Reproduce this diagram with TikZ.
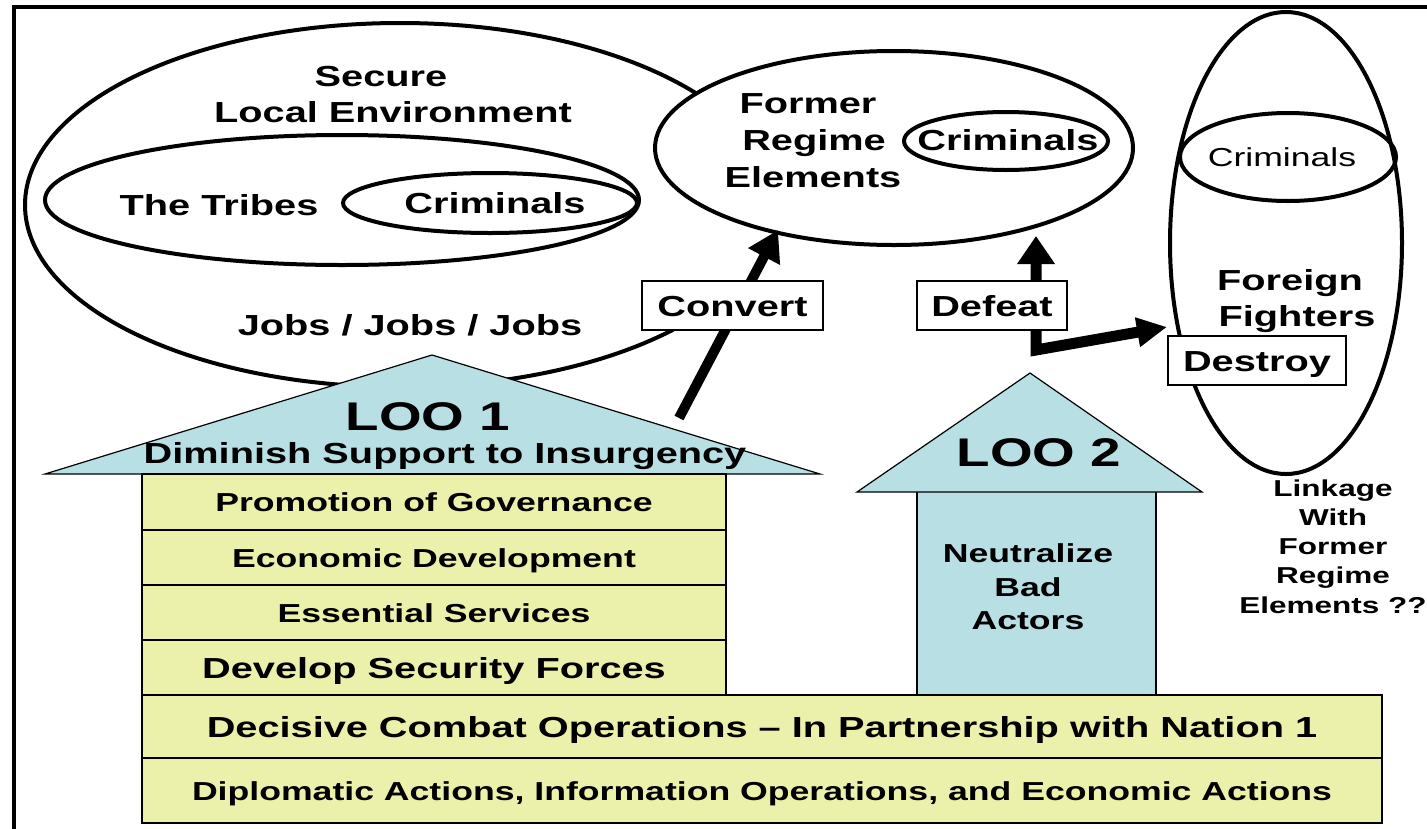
\documentclass[tikz,border=0pt]{standalone}
\usepackage{fontspec}
\setmainfont{Liberation Sans}[FakeStretch=1.37]
\usetikzlibrary{shapes.geometric,arrows.meta}
\definecolor{loob}{RGB}{184,223,227}
\definecolor{looy}{RGB}{235,240,170}
\newcommand{\fA}{\fontsize{29}{35}\selectfont\bfseries}
\newcommand{\fB}{\fontsize{26}{31}\selectfont\bfseries}
\newcommand{\fC}{\fontsize{40}{46}\selectfont\bfseries}
\newcommand{\fD}{\fontsize{23}{28}\selectfont\bfseries}
\newcommand{\fR}{\fontsize{26}{31}\selectfont}
\begin{document}
\begin{tikzpicture}[x=1pt,y=-1pt,
  oval/.style={draw, ellipse, line width=4pt, inner sep=0pt},
  lbl/.style={anchor=base, inner sep=0pt, font=\fA},
  box/.style={draw, fill=white, line width=1.2pt, inner sep=0pt, font=\fA, text height=21pt, text depth=0pt},
  row/.style={draw, fill=looy, line width=1.2pt, inner sep=0pt, text height=19pt, text depth=0pt, font=\fB},
  rowbig/.style={row, text height=21pt, font=\fA},
  loofill/.style={draw, fill=loob, line width=1.2pt, line join=miter},
  fat/.style={line width=10pt, line join=miter}]
\useasboundingbox (0,0) rectangle (1427,828);
% frame
\draw[line width=4pt, line join=miter] (13.5,830) -- (13.5,7) -- (1430,7);
% Secure local environment
\begin{scope}
\clip (0,0) -- (1427,0) -- (1427,200) -- (674,200) -- (674,333) -- (1427,333) -- (1427,828) -- (0,828) -- cycle;
\node[oval, minimum width=750pt, minimum height=364pt] (sle) at (400,205) {};
\end{scope}
\node[oval, minimum width=594pt, minimum height=130pt] (tribes) at (342,200) {};
\node[oval, minimum width=294pt, minimum height=60pt] (crim1) at (490,203) {};
\node[lbl] (t-secure) at (381,86) {Secure};
\node[lbl] (t-local) at (393,122) {Local Environment};
\node[lbl] (t-tribes) at (219,215) {The Tribes};
\node[lbl] (t-crim1) at (495,213) {Criminals};
\node[lbl] (t-jobs) at (410,335) {Jobs / Jobs / Jobs};
% Former regime elements
\node[oval, fill=white, minimum width=478pt, minimum height=194pt] (fre) at (894,148) {};
\node[oval, minimum width=204pt, minimum height=58pt] (crim2) at (1006,141) {};
\node[lbl] (t-former) at (808,113) {Former};
\node[lbl] (t-regime) at (814,150) {Regime};
\node[lbl] (t-elem) at (813,187) {Elements};
\node[lbl] (t-crim2) at (1008,150) {Criminals};
% Foreign fighters
\node[oval, minimum width=232pt, minimum height=462pt] (ff) at (1286,243) {};
\node[oval, minimum width=216pt, minimum height=88pt] (crim3) at (1288,157) {};
\node[lbl, font=\fR] (t-crim3) at (1282,166) {Criminals};
\node[lbl] (t-foreign) at (1290,290) {Foreign};
\node[lbl] (t-fighters) at (1297,326) {Fighters};
% LOO 1
\coordinate (l1a) at (45,474);
\coordinate (l1b) at (432,355);
\coordinate (l1c) at (820,474);
\draw[loofill] (l1a) -- (l1b) -- (l1c) -- cycle;
\node[lbl, font=\fC] (t-loo1) at (428,430) {LOO 1};
\node[lbl] (t-dimin) at (445,463) {Diminish Support to Insurgency};
% LOO 2
\coordinate (l2a) at (857,492);
\coordinate (l2b) at (1030,373);
\coordinate (l2c) at (1202,492);
\node[loofill, rectangle, minimum width=239pt, minimum height=204pt, inner sep=0pt] (loo2) at (1036.5,593) {};
\draw[loofill] (l2a) -- (l2b) -- (l2c) -- cycle;
\node[lbl, font=\fC] (t-loo2) at (1039,466) {LOO 2};
\node[lbl, font=\fB] (t-neu) at (1028,562) {Neutralize};
\node[lbl, font=\fB] (t-bad) at (1028,596) {Bad};
\node[lbl, font=\fB] (t-act) at (1028,629) {Actors};
% rows
\node[row, minimum width=584pt, minimum height=56pt] (r1) at (434,502) {Promotion of Governance};
\node[row, minimum width=584pt, minimum height=55pt] (r2) at (434,557.5) {Economic Development};
\node[row, minimum width=584pt, minimum height=55pt] (r3) at (434,612.5) {Essential Services};
\node[rowbig, minimum width=584pt, minimum height=55pt] (r4) at (434,667.5) {Develop Security Forces};
\node[rowbig, minimum width=1240pt, minimum height=63pt] (r5) at (762,726.5) {Decisive Combat Operations – In Partnership with Nation 1};
\node[row, minimum width=1240pt, minimum height=65pt] (r6) at (762,790.5) {Diplomatic Actions, Information Operations, and Economic Actions};
% linkage text
\node[lbl, font=\fD] (t-link1) at (1333,496) {Linkage};
\node[lbl, font=\fD] (t-link2) at (1333,525) {With};
\node[lbl, font=\fD] (t-link3) at (1333,554) {Former};
\node[lbl, font=\fD] (t-link4) at (1333,583) {Regime};
\node[lbl, font=\fD] (t-link5) at (1333,613) {Elements ??};
% arrows
\coordinate (cvs) at (679,418);
\coordinate (cvt) at (778,230);
\draw[fat, -{Triangle[length=30pt,width=34pt]}] (cvs) -- (cvt);
\coordinate (dtop) at (1036,236);
\coordinate (dcorner) at (1036,350);
\coordinate (dright) at (1167,327);
\draw[line width=11pt, line join=miter, {Triangle[length=28pt,width=36pt]}-{Triangle[length=30pt,width=28pt]}] (dtop) -- (dcorner) -- (dright);
% labels
\node[box, minimum width=181pt, minimum height=49pt] (convert) at (732.5,305.5) {Convert};
\node[box, minimum width=150pt, minimum height=49pt] (defeat) at (992,305.5) {Defeat};
\node[box, minimum width=178pt, minimum height=49pt] (destroy) at (1257,360.5) {Destroy};
\end{tikzpicture}
\end{document}
